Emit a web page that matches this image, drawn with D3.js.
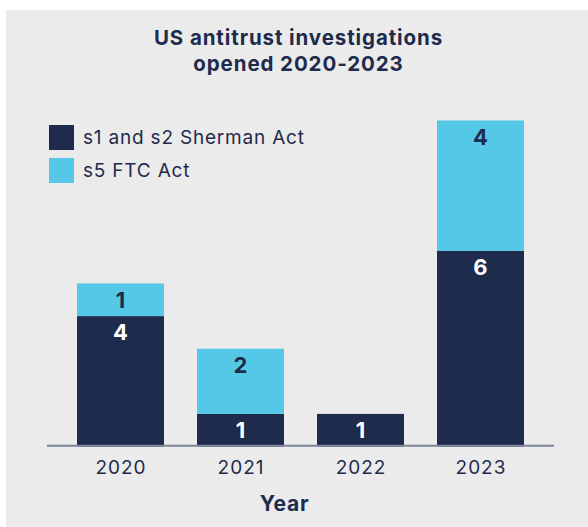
<!DOCTYPE html>
<html><head><meta charset="utf-8">
<script src="https://cdn.jsdelivr.net/npm/d3@7"></script>
<style>body{margin:0;background:#fff}svg{display:block}text{font-family:Inter,"Open Sans",sans-serif}</style>
</head><body><svg id="c" width="588" height="527"></svg>
<script>
const years = ["2020","2021","2022","2023"];
const sherman = [4,1,1,6];
const ftc = [1,2,0,4];
const seriesNames = ["s1 and s2 Sherman Act","s5 FTC Act"];
const titleLines = ["US antitrust investigations","opened 2020-2023"];
const xTitle = "Year";

const navy="#1e2b4d", cyan="#55c8e8";
const svg=d3.select("#c");
svg.append("rect").attr("x",6).attr("y",10).attr("width",582).attr("height",517).attr("fill","#ebebeb");

const x=d3.scaleBand().domain(years).range([60.5,540.5]).paddingInner(0.275).paddingOuter(0.1375);
const totals=years.map((y,i)=>sherman[i]+ftc[i]);
const y=d3.scaleLinear().domain([0,d3.max(totals)]).range([446.5,120.5]);

const rows=years.map((yr,i)=>({year:yr,sherman:sherman[i],ftc:ftc[i]}));
const stack=d3.stack().keys(["sherman","ftc"])(rows);
const colors={sherman:navy,ftc:cyan};
const labelColors={sherman:"#fff",ftc:navy};

stack.forEach(layer=>{
  const g=svg.append("g");
  layer.forEach(d=>{
    if(d[1]-d[0]<=0) return;
    g.append("rect").attr("x",x(d.data.year)).attr("width",x.bandwidth())
      .attr("y",y(d[1])).attr("height",y(d[0])-y(d[1])).attr("fill",colors[layer.key]);
    g.append("text").attr("x",x(d.data.year)+x.bandwidth()/2).attr("y",y(d[1])+24)
      .attr("text-anchor","middle").attr("font-size",22).attr("font-weight",700)
      .attr("fill",labelColors[layer.key]).text(d[1]-d[0]);
  });
});

svg.append("line").attr("x1",47).attr("x2",554).attr("y1",445.7).attr("y2",445.7)
  .attr("stroke","#7d8699").attr("stroke-width",2);

const ax=svg.append("g").attr("transform","translate(0,446)").call(d3.axisBottom(x).tickSize(0).tickPadding(0));
ax.select(".domain").remove();
ax.selectAll("text").attr("y",28).attr("dy",null).attr("font-size",19).attr("fill",navy)
  .style("font-family","Inter,sans-serif").style("letter-spacing","1px").attr("dx",0.5);

svg.append("text").attr("x",284.5).attr("y",510.7).attr("text-anchor","middle")
  .attr("font-size",21).attr("font-weight",700).attr("fill",navy).style("letter-spacing","0.8px").text(xTitle);

svg.selectAll(".title").data(titleLines).join("text").attr("class","title")
  .attr("x",298.5).attr("y",(d,i)=>45+i*25.7).attr("text-anchor","middle")
  .attr("font-size",20.5).attr("font-weight",700).attr("fill",navy).style("letter-spacing","0.9px").text(d=>d);

const lg=svg.append("g");
seriesNames.forEach((n,i)=>{
  lg.append("rect").attr("x",49).attr("y",125+i*33).attr("width",25).attr("height",25)
    .attr("fill",i===0?navy:cyan);
  lg.append("text").attr("x",83).attr("y",144+i*32.5).attr("font-size",19).attr("fill",navy)
    .style("letter-spacing","0.8px").text(n);
});
</script></body></html>
